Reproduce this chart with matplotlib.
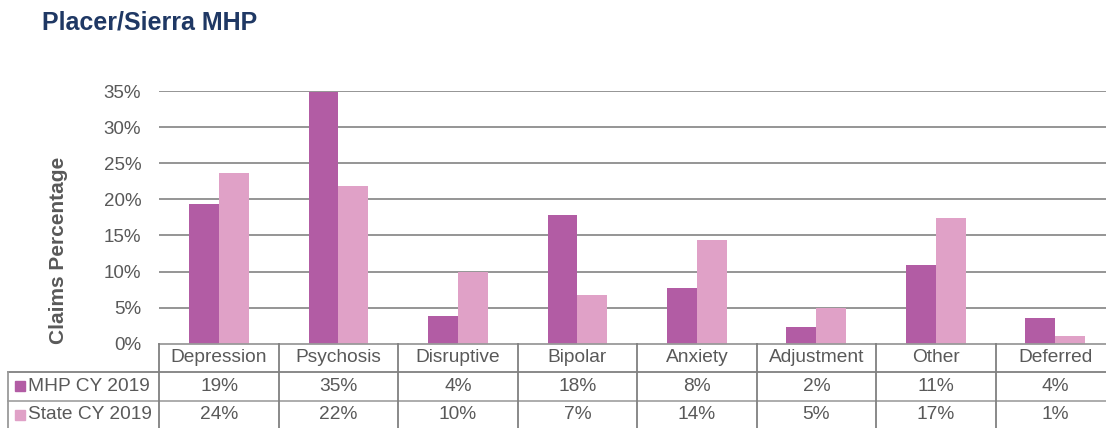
import matplotlib
matplotlib.use("Agg")
import matplotlib.pyplot as plt
from matplotlib.transforms import blended_transform_factory
from matplotlib.patches import Rectangle
from matplotlib.lines import Line2D

plt.rcParams['font.family'] = ['Liberation Sans', 'DejaVu Sans']

title = "Placer/Sierra MHP"
categories = ["Depression", "Psychosis", "Disruptive", "Bipolar", "Anxiety",
              "Adjustment", "Other", "Deferred"]
series_names = ["MHP CY 2019", "State CY 2019"]
mhp_values = [19.3, 34.8, 3.8, 17.8, 7.7, 2.3, 10.9, 3.5]
state_values = [23.7, 21.8, 10.0, 6.7, 14.4, 5.0, 17.4, 1.1]
mhp_labels = ["19%", "35%", "4%", "18%", "8%", "2%", "11%", "4%"]
state_labels = ["24%", "22%", "10%", "7%", "14%", "5%", "17%", "1%"]
yticks = [0, 5, 10, 15, 20, 25, 30, 35]
ylabel = "Claims Percentage"

c_mhp = "#B25CA4"
c_state = "#E0A1C7"
txt = "#595959"
grid = "#8C8C8C"
tline = "#9A9A9A"

W, H = 1106, 428
fig = plt.figure(figsize=(W / 100, H / 100), dpi=100)

def fy(py):
    return 1 - py / H

def fx(px):
    return px / W

ax_left, ax_right = 159.3, 1115.0
ax_top, ax_bot = 91.0, 343.7
ax = fig.add_axes([fx(ax_left), fy(ax_bot), fx(ax_right - ax_left), (ax_bot - ax_top) / H])

n = len(categories)
xs = list(range(n))
bw = 0.25
ax.bar([x - bw / 2 for x in xs], mhp_values, width=bw, color=c_mhp, zorder=3,
       label=series_names[0])
ax.bar([x + bw / 2 for x in xs], state_values, width=bw, color=c_state, zorder=3,
       label=series_names[1])
ax.set_xlim(-0.5, n - 0.5)
ax.set_ylim(0, 35)
ax.set_yticks(yticks)
ax.set_yticklabels([f"{t}%" for t in yticks], fontsize=13.5, color=txt)
ax.tick_params(axis='y', length=0, pad=13)
ax.set_xticks([])
for s in ax.spines.values():
    s.set_visible(False)
for t in yticks[1:]:
    ax.axhline(t, color=grid, lw=1.3, zorder=1)
ax.axhline(0, color=tline, lw=1.3, zorder=4, clip_on=False)

# Y label (placed as in the reference, slightly below the axes centre)
fig.text(fx(59), fy(250), ylabel, rotation=90, fontsize=15, fontweight='bold',
         color=txt, ha='center', va='center')

# Title
fig.text(fx(42), fy(22), title, fontsize=18, fontweight='bold', color="#1F3864",
         ha='left', va='center')

# Data table
tr = blended_transform_factory(ax.transData, fig.transFigure)
row_y = [343.7, 371.7, 400.7, 429.0]
line_cols = [None, "#808080", "#A6A6A6"]
for k in (1, 2):
    py = row_y[k]
    fig.add_artist(Line2D([fx(8), 1.0], [fy(py), fy(py)], color=line_cols[k], lw=1.3,
                          transform=fig.transFigure))
fig.add_artist(Line2D([fx(8), fx(8)], [fy(row_y[1]), fy(row_y[3])], color=tline, lw=1.3,
                      transform=fig.transFigure))
for i in range(n + 1):
    xb = i - 0.5
    fig.add_artist(Line2D([xb, xb], [fy(row_y[0]), fy(row_y[3])], color="#808080", lw=1.3,
                          transform=tr, clip_on=False))

def cy(i):
    return fy((row_y[i] + row_y[i + 1]) / 2)

fs = 13.8
for i, c in enumerate(categories):
    fig.text(i, cy(0), c, transform=tr, ha='center', va='center', fontsize=fs, color=txt)
    fig.text(i, cy(1), mhp_labels[i], transform=tr, ha='center', va='center',
             fontsize=fs, color=txt)
    fig.text(i, cy(2), state_labels[i], transform=tr, ha='center', va='center',
             fontsize=fs, color=txt)

for r, (name, col) in enumerate(zip(series_names, [c_mhp, c_state])):
    ycen = (row_y[r + 1] + row_y[r + 2]) / 2
    sq = 10
    fig.add_artist(Rectangle((fx(15), fy(ycen + sq / 2)), fx(sq), sq / H,
                             transform=fig.transFigure, color=col))
    fig.text(fx(28), fy(ycen), name, ha='left', va='center', fontsize=fs, color=txt)

fig.savefig("out.png", dpi=100)
